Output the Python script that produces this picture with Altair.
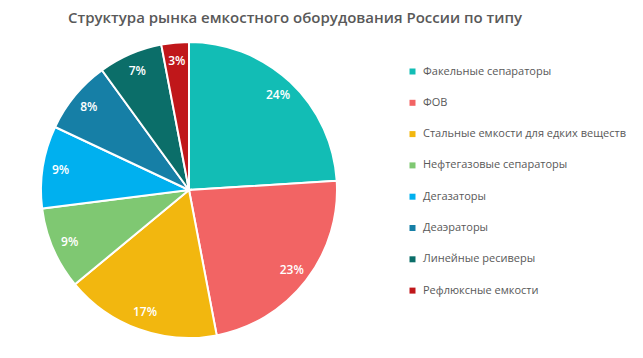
import altair as alt
import pandas as pd

categories = [
    "Факельные сепараторы",
    "ФОВ",
    "Стальные емкости для едких  веществ",
    "Нефтегазовые сепараторы",
    "Дегазаторы",
    "Деаэраторы",
    "Линейные ресиверы",
    "Рефлюксные емкости",
]
values = [24, 23, 17, 9, 9, 8, 7, 3]
colors = ["#12BDB5", "#F26464", "#F2B70F", "#7FC872", "#00B0EF", "#167FA6", "#0B6E69", "#C0171A"]
title_text = "Структура рынка  емкостного оборудования России по типу"

df = pd.DataFrame({
    "cat": categories,
    "val": values,
    "ord": list(range(len(values))),
    "label": [f"{v}%" for v in values],
})

CX, CY = 181, 182

pie = alt.Chart(df).mark_arc(outerRadius=148, stroke="white", strokeWidth=2).encode(
    theta=alt.Theta("val:Q", stack=True),
    order=alt.Order("ord:Q"),
    color=alt.Color(
        "cat:N",
        scale=alt.Scale(domain=categories, range=colors),
        legend=alt.Legend(
            title=None,
            orient="none",
            legendX=399,
            legendY=58,
            symbolType="square",
            symbolSize=36,
            symbolStrokeWidth=0,
            labelFont="Open Sans",
            labelFontSize=11,
            labelColor="#595959",
            labelOffset=5,
            rowPadding=19.3,
            padding=0,
            labelLimit=300,
        ),
    ),
    x=alt.value(CX),
    y=alt.value(CY),
)

labels = alt.Chart(df).mark_text(
    radius=130, font="Open Sans", fontSize=12, fontWeight=600, color="white"
).encode(
    theta=alt.Theta("val:Q", stack=True),
    order=alt.Order("ord:Q"),
    text="label:N",
    x=alt.value(CX),
    y=alt.value(CY),
)

title = alt.Chart(pd.DataFrame({"t": [title_text]})).mark_text(
    font="Open Sans", fontSize=15, fontWeight=600, color="#595959", baseline="middle"
).encode(text="t:N", x=alt.value(287), y=alt.value(10))

chart = alt.layer(pie, labels, title).properties(
    width=627, height=342, autosize=alt.AutoSizeParams(type="none"), padding=0
).configure_view(stroke=None)

chart.save("out.html", embed_options={"renderer": "svg", "actions": False})
